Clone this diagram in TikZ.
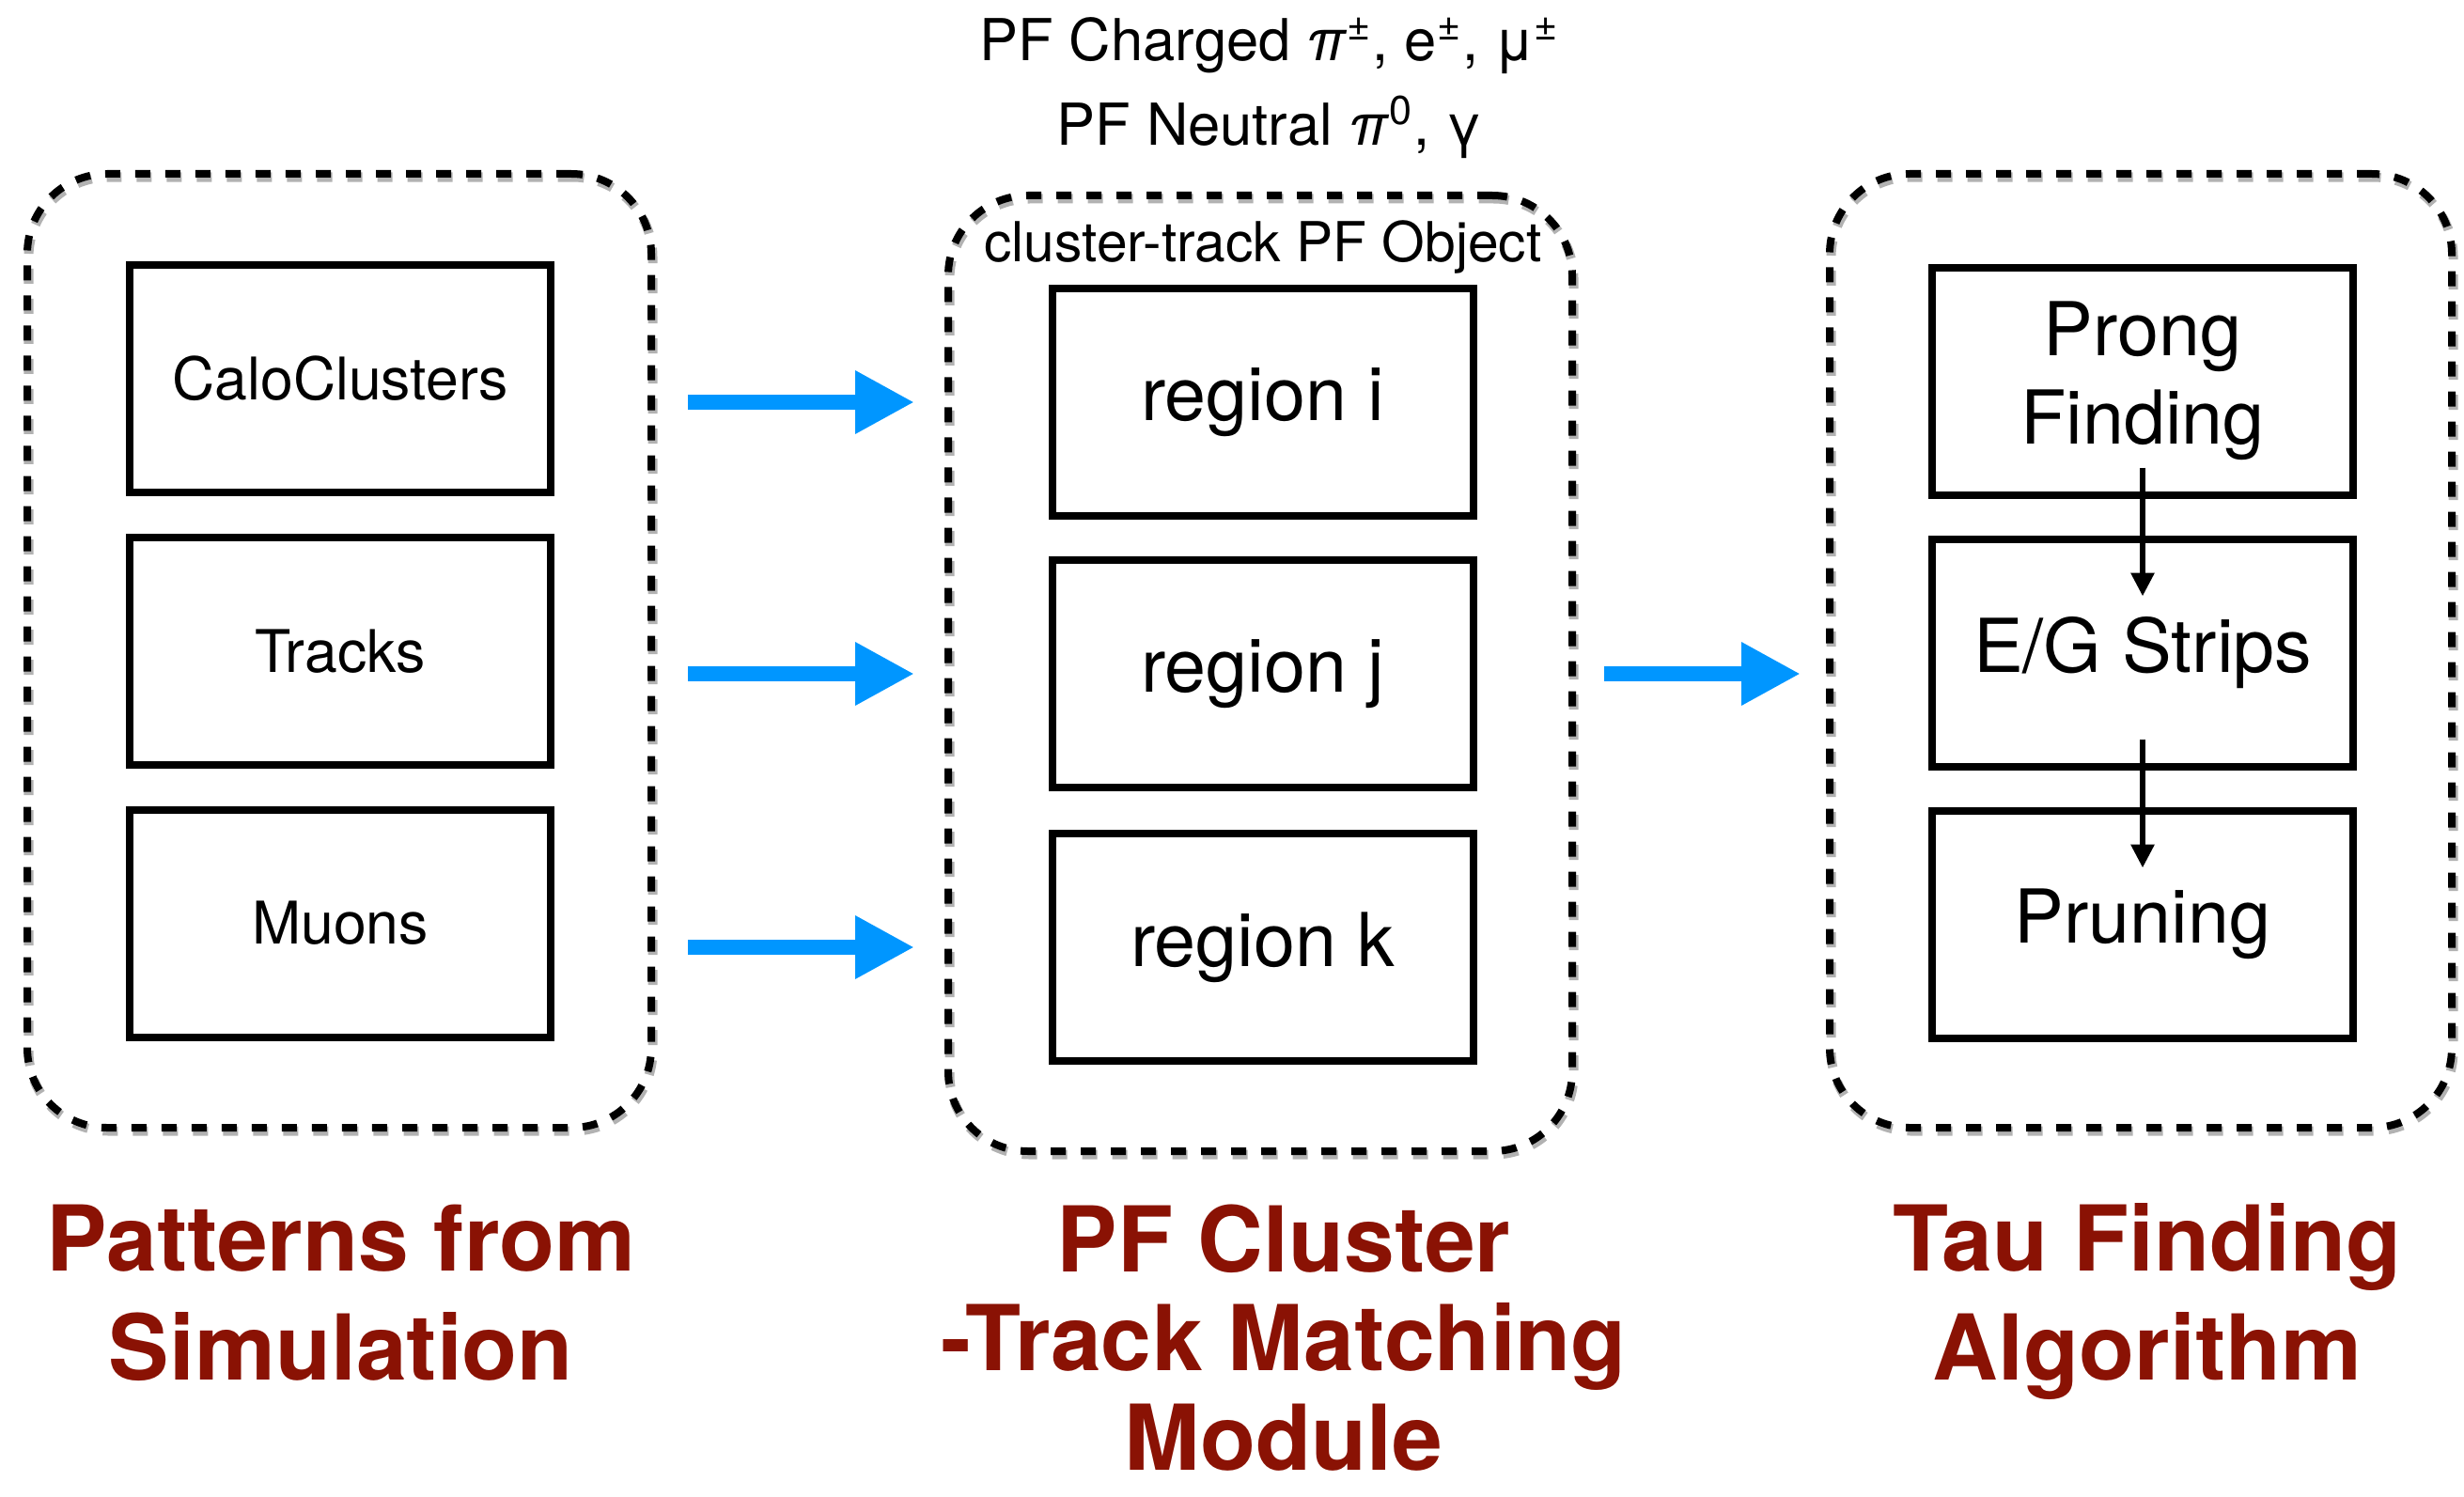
\documentclass[tikz,border=0pt]{standalone}
\usepackage{fontspec}
\setmainfont{TeX Gyre Heros}
\usepackage{tikz}
\usetikzlibrary{arrows.meta, positioning}
\usepackage{xcolor}

\definecolor{arrowblue}{RGB}{0,150,255}
\definecolor{titlered}{RGB}{138,18,4}

\tikzset{
  panel/.style={rectangle, draw, line width=0.08cm, dash pattern=on 0.16cm off 0.16cm,
    rounded corners=0.85cm, minimum width=6.64cm, minimum height=10.15cm,
    preaction={draw=black!30, line width=0.1cm, transform canvas={shift={(0.015,-0.035)}}}},
  stage/.style={rectangle, draw, line width=0.08cm, minimum width=4.48cm, minimum height=2.42cm,
    font=\fontsize{17.8}{21}\selectfont},
  bigstage/.style={stage, align=center, font=\fontsize{22.5}{26.7}\selectfont},
  bluearrow/.style={arrowblue, line width=0.16cm, -{Triangle[length=0.63cm,width=0.63cm]}},
  steparrow/.style={line width=0.06cm, -{Triangle[length=0.25cm,width=0.24cm]},
    shorten <=0.92cm, shorten >=0.6cm},
  title/.style={titlered, align=center, inner sep=0pt, font=\bfseries\fontsize{27.5}{33}\selectfont}
}

\begin{document}
\begin{tikzpicture}
\useasboundingbox (0,0) rectangle (26.22,15.92);

% dashed frames
\node[panel] (sim) at (3.61,8.995) {};
\node[panel, minimum height=10.17cm] (pfmod) at (13.41,8.755) {};
\node[panel, minimum width=6.62cm] (taualg) at (22.78,8.995) {};

% inputs
\node[stage] (calo) at (3.62,11.89) {CaloClusters};
\node[stage] (tracks) at (3.62,8.99) {Tracks};
\node[stage] (muons) at (3.62,6.095) {Muons};

% regions
\node[bigstage] (ri) at (13.435,11.64) {region i};
\node[bigstage] (rj) at (13.435,8.75) {region j};
\node[bigstage] (rk) at (13.435,5.84) {region k};

% tau steps
\node[bigstage] (prong) at (22.80,11.865) {Prong\\Finding};
\node[bigstage] (strips) at (22.80,8.975) {E/G Strips};
\node[bigstage] (pruning) at (22.80,6.085) {Pruning};

% labels over the middle frame
\node[anchor=base, font=\fontsize{17.5}{21}\selectfont] (charged) at (13.51,15.27)
  {PF Charged \textit{π}\textsuperscript{±}, e\textsuperscript{±}, μ\textsuperscript{±}};
\node[anchor=base, font=\fontsize{17.5}{21}\selectfont] (neutral) at (13.51,14.37)
  {PF Neutral \textit{π}\textsuperscript{0}, γ};
\node[anchor=base, font=\fontsize{16.7}{20}\selectfont] (pfobj) at (13.44,13.14)
  {cluster-track PF Object};

% flow between frames
\draw[bluearrow, shorten <=0.35cm, shorten >=0.32cm] (sim.east |- ri.center) -- (pfmod.west |- ri.center);
\draw[bluearrow, shorten <=0.35cm, shorten >=0.32cm] (sim.east |- rj.center) -- (pfmod.west |- rj.center);
\draw[bluearrow, shorten <=0.35cm, shorten >=0.32cm] (sim.east |- rk.center) -- (pfmod.west |- rk.center);
\draw[bluearrow, shorten <=0.30cm, shorten >=0.27cm] (pfmod.east |- rj.center) -- (taualg.west |- rj.center);

% steps inside the tau frame
\draw[steparrow] (prong.center) -- (strips.center);
\draw[steparrow] (strips.center) -- (pruning.center);

% titles (base = last line)
\node[title, anchor=base] (simtitle) at (3.63,1.24) {Patterns from\\Simulation};
\node[title, anchor=base, font=\bfseries\fontsize{27.5}{30}\selectfont] (pftitle) at (13.66,0.28)
  {PF Cluster\\-Track Matching\\Module};
\node[title, anchor=base] (tautitle) at (22.85,1.24) {Tau Finding\\Algorithm};
\end{tikzpicture}
\end{document}
